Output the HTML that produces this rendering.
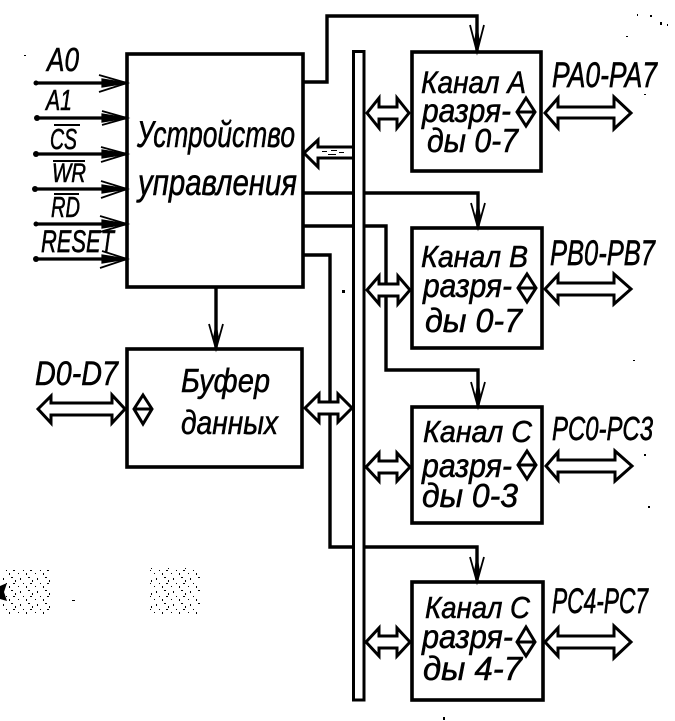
<!DOCTYPE html>
<html lang="ru">
<head>
<meta charset="utf-8">
<title>Диаграмма</title>
<style>
html,body{margin:0;padding:0;background:#fff;width:675px;height:721px;overflow:hidden}
svg{display:block}
text{font-family:"Liberation Sans","DejaVu Sans",sans-serif;font-style:italic;fill:#000;stroke:#000;stroke-width:.5}
.b{fill:#fff;stroke:#000;stroke-width:3.6}
.l{fill:none;stroke:#000;stroke-width:3.4}
.i{fill:none;stroke:#000;stroke-width:3.2}
.a{fill:#fff;stroke:#000;stroke-width:3;stroke-linejoin:miter}
.h{fill:#000;stroke:#000;stroke-width:1.2;stroke-linejoin:miter}
.o{fill:none;stroke:#000;stroke-width:1.8}
.d{fill:#fff;stroke:#000;stroke-width:3}
.v{fill:none;stroke:#000;stroke-width:2}
</style>
</head>
<body>
<svg width="675" height="721" viewBox="0 0 675 721" xmlns="http://www.w3.org/2000/svg">
<defs>
<pattern id="n" width="17" height="13" patternUnits="userSpaceOnUse">
<rect x="1" y="1" width="1" height="1"/><rect x="9" y="1" width="1" height="2"/>
<rect x="3" y="6" width="1" height="2"/><rect x="11" y="5" width="2" height="1"/><rect x="15" y="8" width="1" height="2"/>
<rect x="6" y="11" width="1" height="1"/><rect x="13" y="11" width="2" height="1"/>
</pattern>
</defs>
<rect width="675" height="721" fill="#fff"/>

<!-- noise blobs -->
<rect x="3" y="569" width="47" height="46" fill="url(#n)"/>
<rect x="150" y="568" width="50" height="47" fill="url(#n)"/>
<path d="M0 586L7 583L4 592L7 601L0 599Z" fill="#000"/>

<!-- connectors under arrows -->
<path class="l" d="M303 82H327V16H477V52"/>
<path class="l" d="M303 193H478V228"/>
<path class="l" d="M303 226H386V370H478V407"/>
<path class="l" d="M303 255H330V547H477V582"/>
<path class="l" d="M216 287V349"/>

<!-- main blocks -->
<rect class="b" x="127" y="54" width="176" height="233"/>
<rect class="b" x="127" y="349" width="175" height="118"/>
<rect class="b" x="412" y="52" width="129" height="119"/>
<rect class="b" x="412" y="228" width="130" height="120"/>
<rect class="b" x="412" y="407" width="130" height="116"/>
<rect class="b" x="412" y="582" width="131" height="118"/>

<!-- bus -->
<rect x="353.5" y="51.5" width="10.5" height="648.5" fill="#fff" stroke="#000" stroke-width="3"/>

<!-- vertical arrowheads -->
<path class="h" d="M475 40L477 52L479 40L477 26Z"/>
<path class="o" d="M470 25L477 52L484 25"/>
<path class="h" d="M476 215L478 228L480 215L478 203Z"/>
<path class="o" d="M471 203L478 228L485 203"/>
<path class="h" d="M476 394L478 407L480 394L478 382Z"/>
<path class="o" d="M471 382L478 407L485 382"/>
<path class="h" d="M475 569L477 582L479 569L477 557Z"/>
<path class="o" d="M470 557L477 582L484 557"/>
<path class="h" d="M214 336L216 349L218 336L216 324Z"/>
<path class="o" d="M209 324L216 349L223 324"/>

<!-- input lines -->
<path class="i" d="M36 83H127M36 118H127M36 154H127M36 189H127M36 224H127M36 259H127"/>
<g fill="#000">
<circle cx="36" cy="83" r="2.5"/><circle cx="37" cy="118" r="3"/><circle cx="36" cy="154" r="3"/><circle cx="35" cy="189" r="3"/><circle cx="36" cy="224" r="2.5"/><circle cx="36" cy="259" r="3"/>
</g>
<path class="h" d="M127 83L102 79V87ZM127 118L102 114V122ZM127 154L102 150V158ZM127 189L102 185V193ZM127 224L102 220V228ZM127 259L102 255V263Z"/>
<path class="o" d="M99 75L127 83L99 92M102 111L127 118L102 125M101 147L127 154L101 162M101 181L127 189L101 198M100 216L127 224L100 232M102 251L127 259L100 268"/>

<!-- double arrows between bus and blocks -->
<polygon class="a" points="367,113 379,98 379,107 397,107 397,98 409,113 397,128 397,119 379,119 379,128"/>
<polygon class="a" points="367,290 379,276 379,284 398,284 398,276 410,290 398,304 398,296 379,296 379,304"/>
<polygon class="a" points="305,408 319,394 319,402 338,402 338,394 352,408 338,422 338,414 319,414 319,422"/>
<polygon class="a" points="366,467 379,453 379,461 397,461 397,453 410,467 397,481 397,473 379,473 379,481"/>
<polygon class="a" points="366,642 379,628 379,636 397,636 397,628 410,642 397,656 397,648 379,648 379,656"/>
<path class="a" d="M352 147H318V140L304 153L318 167V158H352"/>
<path d="M322 151h5v1h-5zM331 150h6v1h-6zM328 154h8v1h-8zM339 152h5v1h-5z" fill="#000"/>

<!-- external arrows -->
<polygon class="a" points="545,113 558,98 558,107 614,107 614,97 631,113 614,129 614,118 558,118 558,128"/>
<polygon class="a" points="545,289 558,275 558,283 614,283 614,274 631,289 614,304 614,295 558,295 558,303"/>
<polygon class="a" points="546,466 558,452 558,460 615,460 615,451 632,466 615,481 615,472 558,472 558,480"/>
<polygon class="a" points="545,642 558,628 558,636 614,636 614,626 631,642 614,658 614,648 558,648 558,656"/>
<polygon class="a" points="38,409 51,396 51,403 112,403 112,395 125,409 112,423 112,415 51,415 51,423"/>

<!-- diamonds -->
<path class="d" d="M526 98L535 112L526 126L517 112Z M517 112H535"/>
<path class="d" d="M527 274L536 288L527 302L518 288Z M518 288H536"/>
<path class="d" d="M527 451L536 465L527 479L518 465Z M518 465H536"/>
<path class="d" d="M526 627L535 642L526 656L517 642Z M517 642H535"/>
<path class="d" d="M143 395L152 409L143 424L134 409Z M134 409H152"/>

<!-- input labels -->
<text transform="translate(47 71) scale(1 1.12)" font-size="30" textLength="32" lengthAdjust="spacingAndGlyphs">A0</text>
<text transform="translate(46 110) scale(1 1.2)" font-size="24" textLength="26" lengthAdjust="spacingAndGlyphs">A1</text>
<text transform="translate(50 149) scale(1 1.2)" font-size="24" textLength="27" lengthAdjust="spacingAndGlyphs">CS</text>
<text transform="translate(52 182) scale(1 1.2)" font-size="22" textLength="34" lengthAdjust="spacingAndGlyphs">WR</text>
<text transform="translate(51 217) scale(1 1.2)" font-size="24" textLength="29" lengthAdjust="spacingAndGlyphs">RD</text>
<text transform="translate(41 252) scale(1 1.25)" font-size="25" textLength="73" lengthAdjust="spacingAndGlyphs">RESET</text>
<path class="v" d="M54 125H80M53 161H85M54 194H79"/>

<!-- main text -->
<text transform="translate(137 147) scale(1 1.15)" font-size="32" textLength="158" lengthAdjust="spacingAndGlyphs">Устройство</text>
<text transform="translate(138 195) scale(1 1.15)" font-size="32" textLength="159" lengthAdjust="spacingAndGlyphs">управления</text>
<text transform="translate(181 392) scale(1 1.1)" font-size="30" textLength="89" lengthAdjust="spacingAndGlyphs">Буфер</text>
<text transform="translate(181 434) scale(1 1.1)" font-size="30" textLength="97" lengthAdjust="spacingAndGlyphs">данных</text>
<text transform="translate(35 385) scale(1 1.15)" font-size="30" textLength="83" lengthAdjust="spacingAndGlyphs">D0-D7</text>

<!-- channel A -->
<text transform="translate(421 93) scale(1 1.1)" font-size="29" textLength="105" lengthAdjust="spacingAndGlyphs">Канал A</text>
<text transform="translate(422 122) scale(1 1.1)" font-size="30" textLength="89" lengthAdjust="spacingAndGlyphs">разря-</text>
<text transform="translate(427 152) scale(1 1.15)" font-size="29" textLength="91" lengthAdjust="spacingAndGlyphs">ды 0-7</text>
<text transform="translate(552 87) scale(1 1.25)" font-size="28" textLength="105" lengthAdjust="spacingAndGlyphs">PA0-PA7</text>

<!-- channel B -->
<text transform="translate(421 267) scale(1 1.1)" font-size="28" textLength="107" lengthAdjust="spacingAndGlyphs">Канал B</text>
<text transform="translate(423 297) scale(1 1.1)" font-size="30" textLength="89" lengthAdjust="spacingAndGlyphs">разря-</text>
<text transform="translate(425 332) scale(1 1.15)" font-size="29" textLength="97" lengthAdjust="spacingAndGlyphs">ды  0-7</text>
<text transform="translate(550 265) scale(1 1.25)" font-size="28" textLength="105" lengthAdjust="spacingAndGlyphs">PB0-PB7</text>

<!-- channel C 0-3 -->
<text transform="translate(423 442) scale(1 1.1)" font-size="28" textLength="109" lengthAdjust="spacingAndGlyphs">Канал C</text>
<text transform="translate(422 477) scale(1 1.1)" font-size="30" textLength="90" lengthAdjust="spacingAndGlyphs">разря-</text>
<text transform="translate(422 507) scale(1 1.15)" font-size="29" textLength="96" lengthAdjust="spacingAndGlyphs">ды  0-3</text>
<text transform="translate(552 440) scale(1 1.25)" font-size="27" textLength="101" lengthAdjust="spacingAndGlyphs">PC0-PC3</text>

<!-- channel C 4-7 -->
<text transform="translate(425 618) scale(1 1.1)" font-size="28" textLength="105" lengthAdjust="spacingAndGlyphs">Канал C</text>
<text transform="translate(422 648) scale(1 1.1)" font-size="30" textLength="91" lengthAdjust="spacingAndGlyphs">разря-</text>
<text transform="translate(423 680) scale(1 1.15)" font-size="29" textLength="99" lengthAdjust="spacingAndGlyphs">ды  4-7</text>
<text transform="translate(552 613) scale(1 1.25)" font-size="28" textLength="96" lengthAdjust="spacingAndGlyphs">PC4-PC7</text>

<!-- specks -->
<path fill="#000" d="M650 15h2v2h-2zM660 22h2v3h-2zM637 14h1v2h-1zM626 36h2v1h-2zM644 94h2v1h-2zM667 24h1v2h-1zM633 360h2v1h-2zM644 454h2v2h-2zM648 506h2v2h-2zM443 717h2v3h-2zM72 600h3v1h-3zM24 55h2v1h-2zM342 290h3v3h-3z"/>
</svg>
</body>
</html>
